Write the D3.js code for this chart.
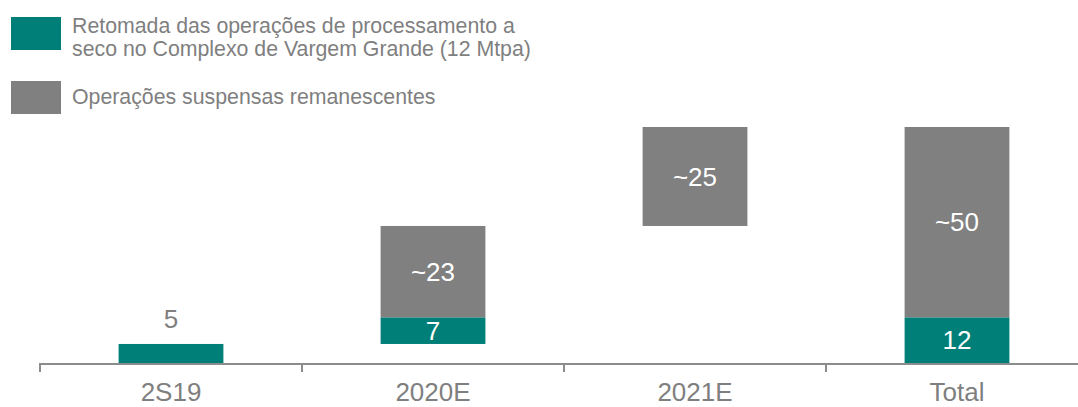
<!DOCTYPE html>
<html>
<head>
<meta charset="utf-8">
<script src="https://cdn.jsdelivr.net/npm/d3@7"></script>
<style>
  body { margin: 0; background: #fff; }
  svg { display: block; font-family: "Liberation Sans", Arial, sans-serif; }
</style>
</head>
<body>
<div id="chart"></div>
<script>
// dados do gráfico (Mtpa)
let categories = ['2S19', '2020E', '2021E', 'Total'];
let retomada = [5, 7, 0, 12];          // retomada a seco, Vargem Grande
let suspensas = [0, 24, 26, 50];       // operações suspensas remanescentes
let retomadaLabels = ['5', '7', '', '12'];
let suspensasLabels = ['', '~23', '~25', '~50'];
let legendLines = [
    ['Retomada das operações de processamento a', 'seco no Complexo de Vargem Grande (12 Mtpa)'],
    ['Operações suspensas remanescentes']
];

let W = 1078, H = 407;
let teal = '#007f78', grey = '#808080', textGrey = '#7f7f7f';

let svg = d3.select('#chart').append('svg')
    .attr('width', W)
    .attr('height', H);

//x: categorias discretas
let xScale = d3.scaleBand()
    .domain(categories)
    .range([40, 1088])
    .paddingInner(0.6)
    .paddingOuter(0.3);

let yScale = d3.scaleLinear()
    .domain([0, 62])
    .range([363, 127]);

//montar segmentos do waterfall
let segs = [];
let running = 0;
categories.forEach(function (c, i) {
    let base = c === 'Total' ? 0 : running;
    segs.push({cat: c, y0: base, y1: base + retomada[i], color: teal, label: retomadaLabels[i]});
    segs.push({cat: c, y0: base + retomada[i], y1: base + retomada[i] + suspensas[i], color: grey, label: suspensasLabels[i]});
    if (c !== 'Total') running = base + retomada[i] + suspensas[i];
});
segs = segs.filter(function (d) { return d.y1 > d.y0; });

svg.append('g').selectAll('rect')
    .data(segs)
    .enter()
    .append('rect')
    .attr('x', function (d) { return xScale(d.cat); })
    .attr('y', function (d) { return yScale(d.y1); })
    .attr('width', xScale.bandwidth())
    .attr('height', function (d) { return yScale(d.y0) - yScale(d.y1); })
    .attr('fill', function (d) { return d.color; });

//rótulos
svg.append('g').selectAll('text')
    .data(segs.filter(function (d) { return d.label; }))
    .enter()
    .append('text')
    .attr('x', function (d) { return xScale(d.cat) + xScale.bandwidth() / 2; })
    .attr('y', function (d) {
        let h = yScale(d.y0) - yScale(d.y1);
        if (h < 25) return yScale(d.y1) - 25;  // barra fina: rótulo acima
        return (yScale(d.y0) + yScale(d.y1)) / 2;
    })
    .attr('dy', '0.35em')
    .attr('text-anchor', 'middle')
    .attr('font-size', 26)
    .attr('fill', function (d) {
        return (yScale(d.y0) - yScale(d.y1)) < 25 ? textGrey : '#fff';
    })
    .text(function (d) { return d.label; });

//eixo x
let axisG = svg.append('g');
axisG.append('line')
    .attr('x1', 39).attr('x2', W)
    .attr('y1', 364).attr('y2', 364)
    .attr('stroke', '#8c8c8c')
    .attr('stroke-width', 2);
let step = xScale.step();
axisG.selectAll('line.tick')
    .data(d3.range(categories.length))
    .enter()
    .append('line')
    .attr('class', 'tick')
    .attr('x1', function (i) { return 40 + i * step; })
    .attr('x2', function (i) { return 40 + i * step; })
    .attr('y1', 363).attr('y2', 372)
    .attr('stroke', '#8c8c8c')
    .attr('stroke-width', 2);

let xAxis = d3.axisBottom(xScale).tickSize(0).tickPadding(0);
let xa = svg.append('g')
    .attr('transform', 'translate(0,380)')
    .call(xAxis);
xa.select('.domain').remove();
xa.selectAll('text')
    .attr('dy', 0)
    .attr('y', 21)
    .attr('font-size', 26)
    .attr('font-family', '"Liberation Sans", Arial, sans-serif')
    .attr('fill', textGrey);

//legenda
let legend = svg.append('g');
let legendColors = [teal, grey];
let boxY = [17, 81];
legendColors.forEach(function (c, i) {
    legend.append('rect')
        .attr('x', 11).attr('y', boxY[i])
        .attr('width', 50).attr('height', 33)
        .attr('fill', c);
    let t = legend.append('text')
        .attr('x', 72)
        .attr('font-size', 21.3)
        .attr('fill', textGrey);
    let lines = legendLines[i];
    let firstBase = lines.length > 1 ? 33 : 104;
    lines.forEach(function (l, j) {
        t.append('tspan')
            .attr('x', 72)
            .attr('y', firstBase + j * 23)
            .text(l);
    });
});
</script>
</body>
</html>
